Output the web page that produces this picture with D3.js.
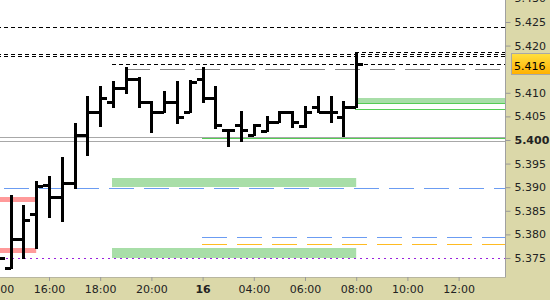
<!DOCTYPE html>
<html><head><meta charset="utf-8">
<script src="https://cdn.jsdelivr.net/npm/d3@7"></script>
<style>body{margin:0;background:#fff}svg{display:block}</style>
</head><body>
<svg id="c" width="550" height="300"></svg>
<script>
// ---- data ----
const times = ["14:00","14:30","15:00","15:30","16:00","16:30","17:00","17:30","18:00","18:30","19:00","19:30","20:00","20:30","21:00","21:30","02:00","02:30","03:00","03:30","04:00","04:30","05:00","05:30","06:00","06:30","07:00","07:30","08:00"];
const openV  = [5.3765,5.3729,5.3790,5.3843,5.3905,5.3879,5.3909,5.4011,5.4059,5.4081,5.4110,5.4129,5.4081,5.4059,5.4081,5.4059,5.4129,5.4089,5.4021,5.4032,5.4011,5.4019,5.4038,5.4059,5.4030,5.4070,5.4059,5.4049,5.4070];
const highV  = [5.3780,5.3881,5.3860,5.3911,5.3922,5.3962,5.4034,5.4091,5.4112,5.4123,5.4153,5.4131,5.4081,5.4102,5.4123,5.4125,5.4153,5.4112,5.4022,5.4059,5.4032,5.4049,5.4059,5.4059,5.4070,5.4091,5.4091,5.4081,5.4184];
const lowV   = [5.3745,5.3729,5.3750,5.3771,5.3837,5.3828,5.3898,5.3968,5.4030,5.4070,5.4100,5.4070,5.4017,5.4059,5.4036,5.4059,5.4081,5.4025,5.3987,5.3998,5.4011,5.4019,5.4038,5.4028,5.4028,5.4059,5.4038,5.4009,5.4070];
const closeV = [5.3750,5.3790,5.3831,5.3903,5.3879,5.3909,5.4011,5.4059,5.4089,5.4110,5.4129,5.4081,5.4059,5.4081,5.4049,5.4123,5.4089,5.4032,5.4021,5.4021,5.4032,5.4038,5.4059,5.4038,5.4059,5.4059,5.4059,5.4070,5.4160];

const xTickSlots  = [0,4,8,12,16,20,24,28,32,36];
const xTickLabels = ["14:00","16:00","18:00","20:00","16","04:00","06:00","08:00","10:00","12:00"];
const yTicks = [5.375,5.380,5.385,5.390,5.395,5.400,5.405,5.410,5.420,5.425,5.430];
const lastPrice = 5.416;

// horizontal levels (price, start slot)
const blackLevelPrice = [5.4239,5.4187,5.4182,5.4177,5.4160];
const blackLevelStart = [0,28,0,0,9];
const grayDashPrice = [5.4150];
const grayDashStart = [10];
const graySolidPrice = [5.4007,5.3997];
const greenLinePrice = [5.4078,5.4066,5.4005];
const greenLineStart = [28,28,16];
const blueDashPrice = [5.3898,5.3794];
const blueDashStart = [0.55,16];
const orangeDashPrice = [5.3779];
const orangeDashStart = [16];
const purpleDotPrice = [5.3750];
// zones: top, bottom, start slot, end slot
const greenZoneTop    = [5.4090,5.3919,5.3772];
const greenZoneBottom = [5.4078,5.3901,5.3751];
const greenZoneStart  = [28,9,9];
const greenZoneEnd    = [40,28,28];
const redZoneTop    = [5.3880,5.3772];
const redZoneBottom = [5.3869,5.3761];
const redZoneStart  = [-1,-1];
const redZoneEnd    = [3,3];

// ---- layout ----
const W = 505, H = 277;
const svg = d3.select("#c");
const x = d3.scaleLinear().domain([0.171875, 39.625]).range([0, W]);
const y = d3.scaleLinear().domain([5.37097, 5.42966]).range([H, 0]);
const ry = v => Math.round(y(v));

svg.append("defs").append("clipPath").attr("id","clip")
  .append("rect").attr("width",W).attr("height",H);
const plot = svg.append("g").attr("clip-path","url(#clip)");
plot.append("rect").attr("width",W).attr("height",H).attr("fill","#fff");

function hline(price, start, color, dash, width){
  const yy = ry(price)+0.5;
  plot.append("line").attr("x1", start===null? 0 : x(start)-1).attr("x2", W)
    .attr("y1", yy).attr("y2", yy).attr("stroke", color)
    .attr("stroke-width", width||1).attr("stroke-dasharray", dash||null)
    .attr("shape-rendering","crispEdges");
}

// zones
greenZoneTop.forEach((t,i)=>{
  plot.append("rect").attr("x", x(greenZoneStart[i])-1).attr("y", ry(t))
    .attr("width", x(greenZoneEnd[i]) - x(greenZoneStart[i]) + 1)
    .attr("height", ry(greenZoneBottom[i]) - ry(t)).attr("fill","#a8dea8");
});
redZoneTop.forEach((t,i)=>{
  plot.append("rect").attr("x", x(redZoneStart[i])).attr("y", ry(t))
    .attr("width", x(redZoneEnd[i]) - x(redZoneStart[i]))
    .attr("height", ry(redZoneBottom[i]) - ry(t)).attr("fill","#ff9a9a");
});

graySolidPrice.forEach(p=>hline(p, null, "#a8a8a8", null, 1));
greenLinePrice.forEach((p,i)=>hline(p, greenLineStart[i], "#55cc55", null, 1));
blackLevelPrice.forEach((p,i)=>hline(p, blackLevelStart[i], "#000", "4,3", 1));
grayDashPrice.forEach((p,i)=>hline(p, grayDashStart[i], "#888", "25,10", 1));
blueDashPrice.forEach((p,i)=>hline(p, blueDashStart[i], "#6b9cf2", "25,10", 1));
orangeDashPrice.forEach((p,i)=>hline(p, orangeDashStart[i], "#ffbb22", "25,10", 1));
purpleDotPrice.forEach(p=>hline(p, null, "#9a22dd", "2,4", 1));

// OHLC bars
const bars = plot.append("g").attr("fill","#000").attr("shape-rendering","crispEdges");
times.forEach((t,i)=>{
  const cx = Math.round(x(i));
  const yh = ry(highV[i]), yl = ry(lowV[i]);
  bars.append("rect").attr("x", cx-1).attr("y", yh-1).attr("width",3).attr("height", yl-yh+2);
  bars.append("rect").attr("x", cx-6).attr("y", ry(openV[i])-1).attr("width",6).attr("height",3);
  bars.append("rect").attr("x", cx+1).attr("y", ry(closeV[i])-1).attr("width",6).attr("height",3);
});

// axes backgrounds
svg.append("rect").attr("x",W).attr("y",0).attr("width",550-W).attr("height",300).attr("fill","#dbd8a9");
svg.append("rect").attr("x",0).attr("y",H).attr("width",W).attr("height",300-H).attr("fill","#dbd8a9");
svg.append("line").attr("x1",W+0.5).attr("x2",W+0.5).attr("y1",0).attr("y2",H+0.5).attr("stroke","#a0a0a0");
svg.append("line").attr("x1",0).attr("x2",W+0.5).attr("y1",H+0.5).attr("y2",H+0.5).attr("stroke","#b8b6a0");

// y axis
const yAxis = d3.axisRight(y).tickValues(yTicks).tickFormat(d3.format(".3f")).tickSize(5).tickPadding(4);
const gy = svg.append("g").attr("transform",`translate(${W+0.5},0)`).call(yAxis);
gy.select(".domain").remove();
gy.selectAll(".tick line").attr("stroke","#999");
gy.selectAll(".tick text").attr("fill","#222").attr("font-family","DejaVu Sans").attr("font-size",11)
  .attr("font-weight", d => Math.abs(d-5.400)<1e-9 ? "bold" : "normal");

// x axis
const xAxis = d3.axisBottom(x).tickValues(xTickSlots).tickFormat((d,i)=>xTickLabels[i]).tickSize(4).tickPadding(4);
const gx = svg.append("g").attr("transform",`translate(0,${H})`).call(xAxis);
gx.select(".domain").remove();
gx.selectAll(".tick line").attr("stroke","#999");
gx.selectAll(".tick text").attr("fill","#222").attr("font-family","DejaVu Sans").attr("font-size",11)
  .attr("font-weight", (d,i)=> xTickLabels[i].indexOf(":")<0 ? "bold" : "normal");

// last price label
const grad = svg.select("defs").append("linearGradient").attr("id","gold").attr("x1",0).attr("x2",0).attr("y1",0).attr("y2",1);
grad.append("stop").attr("offset","0%").attr("stop-color","#ffe040");
grad.append("stop").attr("offset","100%").attr("stop-color","#ffb000");
const ly = y(lastPrice);
svg.append("rect").attr("x",511.5).attr("y",Math.round(ly)-10.5).attr("width",40).attr("height",21)
  .attr("fill","url(#gold)").attr("stroke","#a8a8a8");
svg.append("text").attr("x",514).attr("y",ly+2).attr("dy","0.35em").attr("fill","#000")
  .attr("font-family","DejaVu Sans").attr("font-size",11).text(d3.format(".3f")(lastPrice));
</script>
</body></html>
